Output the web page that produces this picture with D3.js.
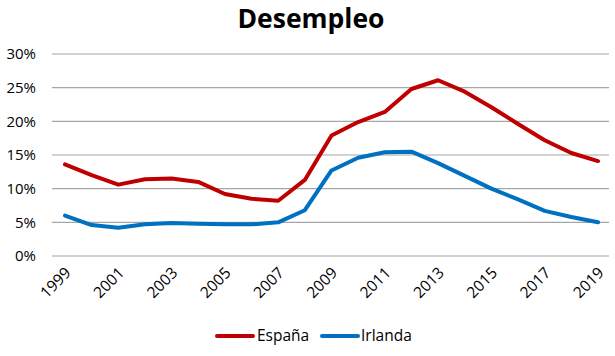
<!DOCTYPE html>
<html>
<head>
<meta charset="utf-8">
<script src="https://cdn.jsdelivr.net/npm/d3@7"></script>
<style>
  html, body { margin: 0; padding: 0; background: #fff; }
  svg { display: block; }
  text { font-family: "Open Sans", "Liberation Sans", sans-serif; }
</style>
</head>
<body>
<svg id="chart" width="615" height="356"></svg>
<script>
const years = [1999,2000,2001,2002,2003,2004,2005,2006,2007,2008,2009,2010,2011,2012,2013,2014,2015,2016,2017,2018,2019];
const espana = [13.6,12.0,10.6,11.4,11.5,11.0,9.2,8.5,8.2,11.3,17.9,19.9,21.4,24.8,26.1,24.4,22.1,19.6,17.2,15.3,14.1];
const irlanda = [6.0,4.6,4.2,4.7,4.9,4.8,4.7,4.7,5.0,6.8,12.7,14.6,15.4,15.5,13.8,11.9,10.0,8.4,6.7,5.8,5.0];
const yTicks = [0,5,10,15,20,25,30];
const xTickYears = [1999,2001,2003,2005,2007,2009,2011,2013,2015,2017,2019];
const seriesNames = ["España","Irlanda"];
const seriesColors = ["#C00000","#0070C0"];

const svg = d3.select("#chart");
const x = d3.scaleLinear().domain([1999,2019]).range([65,598]);
const y = d3.scaleLinear().domain([0,30]).range([256,54]);

// title
svg.append("text").attr("x",311).attr("y",28).attr("text-anchor","middle")
  .attr("font-size",26.5).attr("font-weight","bold").attr("fill","#000").text("Desempleo");

// gridlines
svg.append("g").selectAll("line").data(yTicks).join("line")
  .attr("x1",52).attr("x2",609).attr("y1",d=>y(d)).attr("y2",d=>y(d))
  .attr("stroke","#a6a6a6").attr("stroke-width",1.2);

// y labels
svg.append("g").selectAll("text").data(yTicks).join("text")
  .attr("x",36).attr("y",d=>y(d)).attr("dy","0.35em").attr("text-anchor","end")
  .attr("font-size",15).attr("fill","#000").text(d=>d+"%");

// x labels
svg.append("g").selectAll("text").data(xTickYears).join("text")
  .attr("transform",d=>`translate(${x(d)+3},${270}) rotate(-45)`)
  .attr("text-anchor","end").attr("dy","0.35em")
  .attr("font-size",15.5).attr("fill","#000").text(d=>d);

// lines
const line = d3.line().x((d,i)=>x(years[i])).y(d=>y(d));
[espana, irlanda].forEach((s,k)=>{
  svg.append("path").datum(s).attr("d",line).attr("fill","none")
    .attr("stroke",seriesColors[k]).attr("stroke-width",4)
    .attr("stroke-linejoin","round").attr("stroke-linecap","round");
});

// legend
const leg = [{x1:217,x2:253,tx:257},{x1:322,x2:358,tx:361}];
seriesNames.forEach((n,k)=>{
  svg.append("line").attr("x1",leg[k].x1).attr("x2",leg[k].x2).attr("y1",336).attr("y2",336)
    .attr("stroke",seriesColors[k]).attr("stroke-width",4).attr("stroke-linecap","round");
  svg.append("text").attr("x",leg[k].tx).attr("y",336).attr("dy","0.35em")
    .attr("font-size",15.5).attr("fill","#000").text(n);
});
</script>
</body>
</html>
